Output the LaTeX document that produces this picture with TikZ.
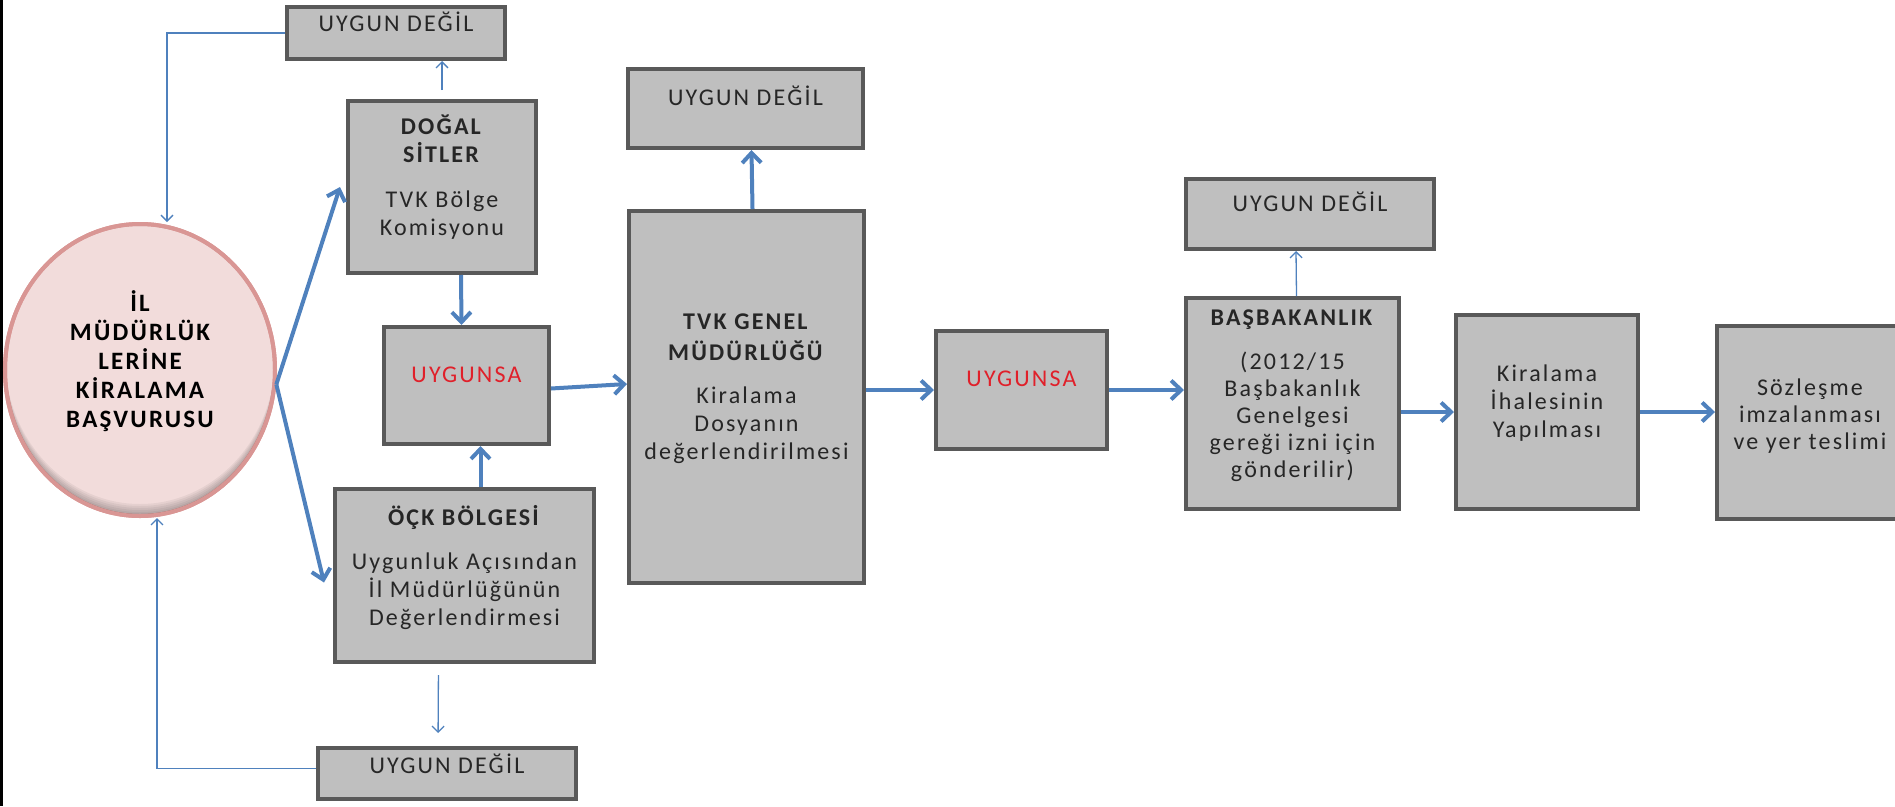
\documentclass[tikz,border=0pt]{standalone}
\usepackage{fontspec}
\setmainfont{Carlito}[LetterSpace=9]
\usetikzlibrary{calc,arrows.meta,shapes.geometric}

\definecolor{kutugri}{HTML}{BFBFBF}
\definecolor{kutucizgi}{HTML}{595959}
\definecolor{okmavi}{HTML}{4F81BD}
\definecolor{elpembe}{HTML}{F2DCDB}
\definecolor{elkenar}{HTML}{D99694}
\definecolor{uygkirmizi}{HTML}{E0202A}

\tikzset{
	kutu/.style={rectangle, draw=kutucizgi, fill=kutugri, line width=4pt, inner sep=0pt, text=black!85, font=\fontsize{24}{28}\selectfont},
	kalinok/.style={draw=okmavi, line width=4pt, -{Straight Barb[length=10pt,width=19pt]}},
	inceok/.style={draw=okmavi, line width=1.3pt, -{Straight Barb[length=6pt,width=12pt]}},
}

% width, height, first baseline
\def\icerik[#1][#2][#3]#4{\parbox[c][#2pt][t]{#1pt}{\centering\rule{0pt}{#3pt}#4}}

\begin{document}
\begin{tikzpicture}[x=1pt,y=-1pt]
			%%%%% START %%%%%
			
			\useasboundingbox (0,0) rectangle (1895,806);
			\clip (0,0) rectangle (1895,806);
			\fill[black] (0,0) rectangle (3,806);
			
			\node[ellipse, draw=elkenar, fill=elpembe, line width=4pt, minimum width=270pt, minimum height=292pt, inner sep=0pt, text=black, font=\bfseries\fontsize{25}{29}\selectfont] (il) at (140,370) {\icerik[180][200][41]{İL\\MÜDÜRLÜK\\LERİNE\\KİRALAMA\\BAŞVURUSU}};
			\begin{scope}
				\clip (il.center) ellipse (135pt and 146pt);
				\foreach \s in {2,4,...,12}
					\fill[black, opacity=0.05, even odd rule] (il.center) ellipse (135pt and 146pt) ($(il.center)+(0,-\s)$) ellipse (135pt and 146pt);
			\end{scope}
			\draw[elkenar, line width=4pt] (il.center) ellipse (135pt and 146pt);
			
			\node[kutu] (ud1) at (396,33) {\icerik[218][52][24]{UYGUN DEĞİL}};
			\node[kutu] (dogal) at (442,187) {\icerik[188][172][33]{\textbf{DOĞAL}\\\textbf{SİTLER}\\[17pt]TVK Bölge\\Komisyonu}};
			\node[kutu] (uyg1) at (466.5,385.5) {\icerik[165][117][55]{\textcolor{uygkirmizi}{UYGUNSA}}};
			\node[kutu] (ock) at (464.5,575.5) {\icerik[259][173][36]{\textbf{ÖÇK BÖLGESİ}\\[16pt]Uygunluk Açısından\\İl Müdürlüğünün\\Değerlendirmesi}};
			\node[kutu] (ud2) at (447,773.5) {\icerik[258][51][25]{UYGUN DEĞİL}};
			
			\node[kutu] (ud3) at (745.5,108.5) {\icerik[235][79][36]{UYGUN DEĞİL}};
			\node[kutu] (tvk) at (746.5,397) {\icerik[235][372][118]{\textbf{TVK GENEL}\\[3pt]\textbf{MÜDÜRLÜĞÜ}\\[15pt]Kiralama\\Dosyanın\\değerlendirilmesi}};
			\node[kutu] (uyg2) at (1021.5,390) {\icerik[171][118][55]{\textcolor{uygkirmizi}{UYGUNSA}}};
			
			\node[kutu] (ud4) at (1310,214) {\icerik[248][70][32]{UYGUN DEĞİL}};
			\node[kutu, font=\fontsize{24}{27}\selectfont] (bas) at (1292.5,403.5) {\icerik[213][211][27]{\textbf{BAŞBAKANLIK}\\[17pt](2012/15\\Başbakanlık\\Genelgesi\\gereği izni için\\gönderilir)}};
			\node[kutu] (ihale) at (1547,412) {\icerik[182][194][66]{Kiralama\\İhalesinin\\Yapılması}};
			\node[kutu, font=\fontsize{24}{27}\selectfont] (soz) at (1810,422.5) {\icerik[186][193][69]{Sözleşme\\imzalanması\\ve yer teslimi}};
			
			% kalin oklar
			\draw[kalinok] (il.-6) -- ([xshift=-6pt]dogal.west);
			\draw[kalinok] (il.-6) -- ($(ock.west)+(-9,7)$);
			\draw[kalinok] ([xshift=19pt]dogal.south) -- ([xshift=-5pt]uyg1.north);
			\draw[kalinok] ([xshift=16pt]ock.north) -- ([xshift=14pt]uyg1.south);
			\draw[kalinok] ([yshift=-3pt]uyg1.east) -- ([yshift=13pt]tvk.west);
			\draw[kalinok] ([xshift=6pt]tvk.north) -- ([xshift=6pt]ud3.south);
			\draw[kalinok] (tvk.east |- uyg2.west) -- (uyg2.west);
			\draw[kalinok] (uyg2.east) -- (uyg2.east -| bas.west);
			\draw[kalinok] (bas.east |- ihale.west) -- (ihale.west);
			\draw[kalinok] (ihale.east) -- (ihale.east -| soz.west);
			
			% ince oklar
			\draw[inceok, shorten <=9pt] (dogal.north) -- (dogal.north |- ud1.south);
			\draw[inceok, shorten <=11pt, shorten >=13pt] ([xshift=-26pt]ock.south) -- ([xshift=-9pt]ud2.north);
			\draw[inceok] ([xshift=4pt]bas.north) -- ([xshift=-14pt]ud4.south);
			\draw[inceok] (ud1.west) -| ([xshift=27pt]il.north);
			\draw[inceok] ([yshift=5pt]ud2.west) -| ([xshift=17pt]il.south);
			
			%%%%% END %%%%%
\end{tikzpicture}
\end{document}
